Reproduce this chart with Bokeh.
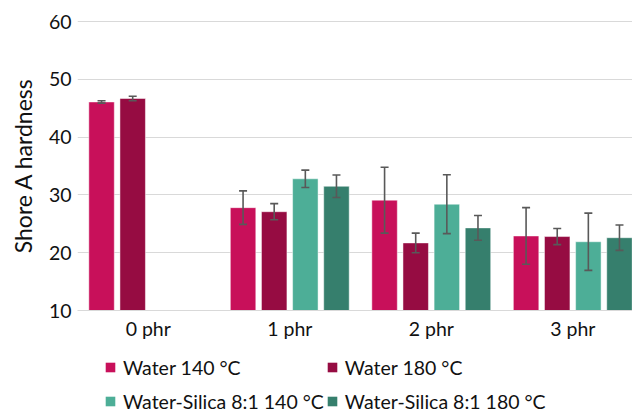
from bokeh.plotting import figure
from bokeh.layouts import column
from bokeh.models import (ColumnDataSource, Whisker, TeeHead, Legend, LegendItem,
                          FixedTicker, Range1d)
from bokeh.transform import dodge
from bokeh.embed import file_html
from bokeh.resources import INLINE

# ---- data ----
categories = ["0 phr", "1 phr", "2 phr", "3 phr"]
series_names = ["Water 140 °C", "Water 180 °C",
                "Water-Silica 8:1 140 °C", "Water-Silica 8:1 180 °C"]
water_140 = [46.1, 27.8, 29.1, 22.9]
water_140_err = [0.2, 2.9, 5.7, 4.9]
water_180 = [46.7, 27.1, 21.7, 22.8]
water_180_err = [0.4, 1.4, 1.7, 1.4]
silica_140 = [None, 32.8, 28.4, 21.9]
silica_140_err = [None, 1.5, 5.1, 4.95]
silica_180 = [None, 31.5, 24.3, 22.6]
silica_180_err = [None, 1.95, 2.15, 2.2]
y_ticks = [10, 20, 30, 40, 50, 60]

values = [water_140, water_180, silica_140, silica_180]
errors = [water_140_err, water_180_err, silica_140_err, silica_180_err]
colors = ["#C8105A", "#960C42", "#4DAE97", "#367F6D"]
offsets = [-0.33, -0.11, 0.11, 0.33]

FONT = "Lato"
TXT = "#111111"
ERR = "#595959"

p = figure(width=632, height=345,
           x_range=Range1d(-0.5, 3.422), y_range=Range1d(10, 60.2),
           output_backend="svg", toolbar_location=None,
           min_border_left=77, min_border_right=0,
           min_border_top=20, min_border_bottom=35)
p.outline_line_color = None
p.background_fill_color = "white"
p.border_fill_color = "white"

sources = []
for vals, errs, col, off in zip(values, errors, colors, offsets):
    xs, tops, ups, lows = [], [], [], []
    for i, (v, e) in enumerate(zip(vals, errs)):
        if v is None:
            continue
        xs.append(i)
        tops.append(v)
        ups.append(v + e)
        lows.append(v - e)
    src = ColumnDataSource(dict(x=xs, top=tops, upper=ups, lower=lows))
    sources.append(src)
    p.vbar(x=dodge("x", off), top="top", bottom=10, width=0.18, source=src,
           fill_color=col, line_color="white", line_width=0.8, line_alpha=0.6)
    w = Whisker(base=dodge("x", off), upper="upper", lower="lower", source=src,
                line_color=ERR, line_width=1.6, level="annotation",
                upper_head=TeeHead(size=8, line_color=ERR, line_width=1.6),
                lower_head=TeeHead(size=8, line_color=ERR, line_width=1.6))
    p.add_layout(w)

# axes
p.xgrid.visible = False
p.ygrid.grid_line_color = "#D9D9D9"
p.ygrid.grid_line_width = 1.2
p.ygrid.ticker = FixedTicker(ticks=y_ticks)

p.yaxis.ticker = FixedTicker(ticks=y_ticks)
p.yaxis.axis_line_color = None
p.yaxis.major_tick_line_color = None
p.yaxis.minor_tick_line_color = None
p.yaxis.major_tick_out = 0
p.yaxis.major_tick_in = 0
p.yaxis.minor_tick_out = 0
p.yaxis.major_label_text_font = FONT
p.yaxis.major_label_text_font_size = "19.5px"
p.yaxis.major_label_text_color = TXT
p.yaxis.major_label_standoff = 6
p.yaxis.axis_label = "Shore A hardness"
p.yaxis.axis_label_text_font = FONT
p.yaxis.axis_label_text_font_size = "23px"
p.yaxis.axis_label_text_font_style = "normal"
p.yaxis.axis_label_text_color = TXT
p.yaxis.axis_label_standoff = 9

p.xaxis.ticker = FixedTicker(ticks=list(range(len(categories))))
p.xaxis.major_label_overrides = {i: c for i, c in enumerate(categories)}
p.xaxis.axis_line_color = "#D9D9D9"
p.xaxis.axis_line_width = 1.2
p.xaxis.major_tick_line_color = None
p.xaxis.minor_tick_line_color = None
p.xaxis.major_tick_out = 0
p.xaxis.major_tick_in = 0
p.xaxis.minor_tick_out = 0
p.xaxis.major_label_text_font = FONT
p.xaxis.major_label_text_font_size = "19.5px"
p.xaxis.major_label_text_color = TXT
p.xaxis.major_label_standoff = 6

# ---- legend strip below the chart ----
# the strip's y range lies far above every bar value, so the key renderers
# draw nothing visible and only supply the legend swatches.
q = figure(width=632, height=68, x_range=Range1d(-0.5, 3.422), y_range=Range1d(100, 101),
           output_backend="svg", toolbar_location=None,
           x_axis_location=None, y_axis_location=None,
           min_border_left=0, min_border_right=0, min_border_top=0, min_border_bottom=0)
q.outline_line_color = None
q.grid.visible = False
q.background_fill_color = "white"
q.border_fill_color = "white"

keys = []
for src, col, off in zip(sources, colors, offsets):
    keys.append(q.vbar(x=dodge("x", off), top="top", bottom=10, width=0.18, source=src,
                       fill_color=col, line_color=None))

items = [LegendItem(label=series_names[i], renderers=[keys[i]]) for i in range(4)]
legend = Legend(items=items, location=(27, -4), orientation="horizontal", ncols=2,
                glyph_width=12, glyph_height=12, label_standoff=7, spacing=2,
                label_height=32,
                padding=0, margin=0, border_line_color=None,
                background_fill_alpha=0,
                label_text_font=FONT, label_text_font_size="19.5px",
                label_text_color=TXT)
q.add_layout(legend)

layout = column(p, q, spacing=0)
open("out.html", "w").write(file_html(layout, INLINE))
